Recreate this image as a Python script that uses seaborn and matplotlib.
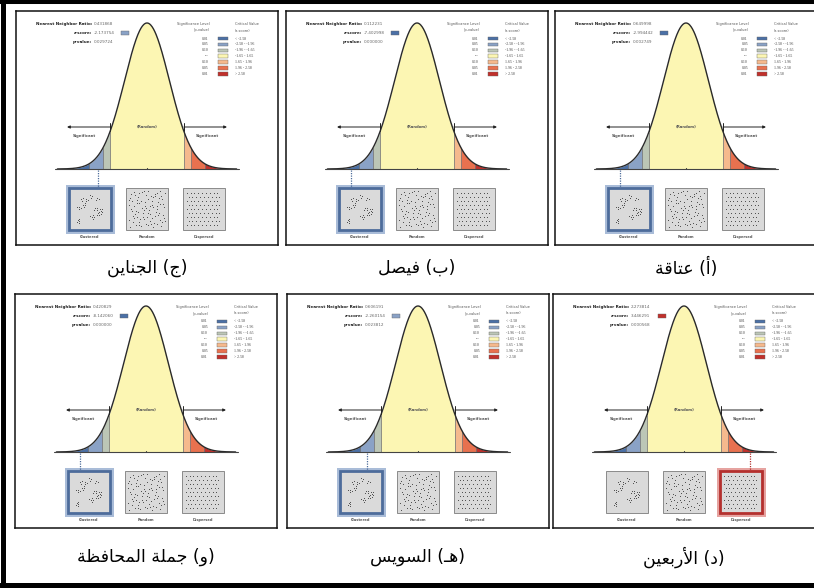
import numpy as np
import matplotlib
matplotlib.use("Agg")
import matplotlib.pyplot as plt
from matplotlib.patches import Rectangle
import seaborn as sns

letters = ["ج", "ب", "أ", "و", "هـ", "د"]
names = ["الجناين", "فيصل", "عتاقة", "جملة المحافظة", "السويس", "الأربعين"]
nn_ratio = [0.431868, 0.112231, 0.649998, 0.420829, 0.606191, 2.273814]
z_scores = [-2.173754, -7.402998, -2.994442, -8.142060, -2.260154, 3.446291]
p_values = [0.029724, 0.000000, 0.002749, 0.000000, 0.023812, 0.000568]

# legend of the report
sig_levels = ["0.01", "0.05", "0.10", "---", "0.10", "0.05", "0.01"]
crit_ranges = ["< -2.58", "-2.58 - -1.96", "-1.96 - -1.65", "-1.65 - 1.65",
               "1.65 - 1.96", "1.96 - 2.58", "> 2.58"]
z_breaks = [-2.58, -1.96, -1.65, 1.65, 1.96, 2.58]
band_colors = ["#4b70a6", "#8aa2c6", "#bcc6b6", "#fcf6b3",
               "#f5b98d", "#e8714f", "#c1302b"]
pattern_names = ["Clustered", "Random", "Dispersed"]

sns.set_theme(style="white")
plt.rcParams["font.family"] = ["DejaVu Sans"]

W_PX, H_PX = 814, 588
fig = plt.figure(figsize=(W_PX / 100, H_PX / 100), dpi=100)

# ---- arabic shaping (matplotlib has no RTL / joining support) ----
FORMS = {
    "ا": ("\uFE8D", "\uFE8E", None, None), "أ": ("\uFE83", "\uFE84", None, None),
    "ب": ("\uFE8F", "\uFE90", "\uFE91", "\uFE92"), "ة": ("\uFE93", "\uFE94", None, None),
    "ت": ("\uFE95", "\uFE96", "\uFE97", "\uFE98"), "ج": ("\uFE9D", "\uFE9E", "\uFE9F", "\uFEA0"),
    "ح": ("\uFEA1", "\uFEA2", "\uFEA3", "\uFEA4"), "د": ("\uFEA9", "\uFEAA", None, None),
    "ر": ("\uFEAD", "\uFEAE", None, None), "س": ("\uFEB1", "\uFEB2", "\uFEB3", "\uFEB4"),
    "ص": ("\uFEB9", "\uFEBA", "\uFEBB", "\uFEBC"), "ظ": ("\uFEC5", "\uFEC6", "\uFEC7", "\uFEC8"),
    "ع": ("\uFEC9", "\uFECA", "\uFECB", "\uFECC"), "ف": ("\uFED1", "\uFED2", "\uFED3", "\uFED4"),
    "ق": ("\uFED5", "\uFED6", "\uFED7", "\uFED8"), "ل": ("\uFEDD", "\uFEDE", "\uFEDF", "\uFEE0"),
    "م": ("\uFEE1", "\uFEE2", "\uFEE3", "\uFEE4"), "ن": ("\uFEE5", "\uFEE6", "\uFEE7", "\uFEE8"),
    "ه": ("\uFEE9", "\uFEEA", "\uFEEB", "\uFEEC"), "و": ("\uFEED", "\uFEEE", None, None),
    "ي": ("\uFEF1", "\uFEF2", "\uFEF3", "\uFEF4"),
    "لأ": ("\uFEF7", "\uFEF8", None, None), "لا": ("\uFEFB", "\uFEFC", None, None),
}
TATWEEL = "ـ"


def shape(text):
    chars, i = [], 0
    while i < len(text):
        if text[i] == "ل" and i + 1 < len(text) and text[i + 1] in "اأ":
            chars.append("ل" + text[i + 1])
            i += 2
        else:
            chars.append(text[i])
            i += 1

    def dual(c):
        return c == TATWEEL or (c in FORMS and FORMS[c][2] is not None)

    def joins(c):
        return c == TATWEEL or c in FORMS

    out = []
    for k, c in enumerate(chars):
        if c not in FORMS:
            out.append(c)
            continue
        prev = chars[k - 1] if k > 0 else None
        nxt = chars[k + 1] if k + 1 < len(chars) else None
        jp = prev is not None and dual(prev)
        jn = FORMS[c][2] is not None and nxt is not None and joins(nxt)
        iso, fin, ini, med = FORMS[c]
        out.append(med if (jp and jn) else fin if jp else ini if jn else iso)
    return "".join(out)[::-1].translate(str.maketrans("()", ")("))


# ---- point pattern illustrations (deterministic) ----
def halton(n, base, skip=1):
    seq = []
    for i in range(skip, skip + n):
        f, r, k = 1.0, 0.0, i
        while k > 0:
            f /= base
            r += f * (k % base)
            k //= base
        seq.append(r)
    return np.array(seq)


def pattern_points(kind):
    if kind == "Clustered":
        cx = 0.12 + 0.76 * halton(11, 2, 3)
        cy = 0.12 + 0.76 * halton(11, 3, 3)
        tmpl = np.array([[0, 0], [0.05, 0.02], [-0.02, 0.05], [0.03, -0.04], [0.06, 0.06]])
        pts = []
        for k, (a, b) in enumerate(zip(cx, cy)):
            ang = k * 1.3
            rot = np.array([[np.cos(ang), -np.sin(ang)], [np.sin(ang), np.cos(ang)]])
            pts.append(tmpl[: 3 + k % 3] @ rot.T + [a, b])
        return np.clip(np.vstack(pts), 0.02, 0.98)
    if kind == "Random":
        return np.column_stack([halton(85, 2, 17), halton(85, 3, 17)])
    gx, gy = np.meshgrid(np.arange(9), np.arange(9))
    gx = gx + 0.5 * (gy % 2)
    return np.column_stack([(gx.ravel() + 0.3) / 9.6, (gy.ravel() + 0.5) / 9])


def zcolor(z):
    return band_colors[int(np.searchsorted(z_breaks, z))]


# ---- one report panel ----
PW, PH = 262, 234
CX, S, BASE, PEAK = 131, 22.4, 158, 146
curve = lambda z: BASE - PEAK * np.exp(-np.asarray(z) ** 2 / 2)
FS = 3.0


def draw_panel(ax, nnr, z, p):
    edges = [-4.0] + z_breaks + [4.0]
    for lo, hi, col in zip(edges[:-1], edges[1:], band_colors):
        zz = np.linspace(lo, hi, 80)
        ax.fill_between(CX + zz * S, curve(zz), BASE, color=col, lw=0)
    for e in z_breaks:
        ax.plot([CX + e * S] * 2, [curve(e), BASE], color="#6a6a6a", lw=0.5)
    zz = np.linspace(-4, 4, 400)
    sns.lineplot(x=CX + zz * S, y=curve(zz), ax=ax, color="#2a2a2a", lw=1.0, sort=False)
    ax.plot([CX - 4.1 * S, CX + 4.1 * S], [BASE, BASE], color="#444444", lw=0.8)
    ax.plot([CX, CX], [BASE - 1.5, BASE], color="#444444", lw=0.8)

    # significance arrows
    for sgn, tx in ((-1, 68), (1, 191)):
        x0 = CX + sgn * 1.65 * S
        ax.annotate("", xy=(x0 + sgn * 43, 116), xytext=(x0, 116),
                    arrowprops=dict(arrowstyle="-|>", color="#222222", lw=0.7,
                                    mutation_scale=4, shrinkA=0, shrinkB=0))
        ax.plot([x0, x0], [112, 120], color="#222222", lw=0.7)
        ax.text(tx, 125, "Significant", fontsize=FS - 0.3, color="#555555",
                ha="center", va="center", fontweight="bold")
    ax.text(CX, 116, "(Random)", fontsize=FS - 0.3, color="#555555",
            ha="center", va="center", fontweight="bold")

    # statistics
    ax.text(76, 13, "Nearest Neighbor Ratio:", fontsize=FS, fontweight="bold",
            ha="right", va="center", color="#222222")
    ax.text(78, 13, f"{nnr:.6f}", fontsize=FS, ha="left", va="center", color="#666666")
    ax.text(76, 22, "z-score:", fontsize=FS, fontweight="bold", ha="right", va="center", color="#222222")
    ax.text(78, 22, f"{z:.6f}", fontsize=FS, ha="left", va="center", color="#666666")
    ax.add_patch(Rectangle((105, 20), 8, 4, facecolor=zcolor(z), edgecolor="#666666", lw=0.3))
    ax.text(76, 31, "p-value:", fontsize=FS, fontweight="bold", ha="right", va="center", color="#222222")
    ax.text(78, 31, f"{p:.6f}", fontsize=FS, ha="left", va="center", color="#666666")

    # legend
    ax.text(194, 13, "Significance Level", fontsize=FS - 0.4, ha="right", va="center", color="#555555")
    ax.text(194, 19.5, "(p-value)", fontsize=FS - 0.4, ha="right", va="center", color="#555555")
    ax.text(219, 13, "Critical Value", fontsize=FS - 0.4, ha="left", va="center", color="#555555")
    ax.text(219, 19.5, "(z-score)", fontsize=FS - 0.4, ha="left", va="center", color="#555555")
    for k, (lv, rg, col) in enumerate(zip(sig_levels, crit_ranges, band_colors)):
        y = 27.5 + 5.9 * k
        ax.text(193, y, lv, fontsize=FS - 0.2, ha="right", va="center",
                color="#444444", family="Liberation Serif")
        ax.add_patch(Rectangle((202, y - 1.8), 10, 3.6, facecolor=col, edgecolor="#666666", lw=0.3))
        ax.text(219, y, rg, fontsize=FS - 0.2, ha="left", va="center",
                color="#444444", family="Liberation Serif")

    # point pattern boxes
    hi = 0 if z < -1.65 else 2 if z > 1.65 else 1
    hcol = "#4d6c9b" if hi == 0 else "#b4302e"
    halo = "#a9bcd8" if hi == 0 else "#e6a3a0"
    for k, kind in enumerate(pattern_names):
        bx, by, bs = CX - 57 + 57 * k - 21, 177, 42
        if k == hi and z != 0 and abs(z) > 1.65:
            ax.add_patch(Rectangle((bx - 1, by - 1), bs + 2, bs + 2, facecolor="none",
                                   edgecolor=halo, lw=3.6))
            ax.add_patch(Rectangle((bx, by), bs, bs, facecolor="#dadada",
                                   edgecolor=hcol, lw=2.0))
        else:
            ax.add_patch(Rectangle((bx, by), bs, bs, facecolor="#dadada",
                                   edgecolor="#8a8a8a", lw=0.7))
        pts = pattern_points(kind)
        ax.scatter(bx + 2.5 + pts[:, 0] * (bs - 5), by + 2.5 + pts[:, 1] * (bs - 5),
                   s=0.5, color="#4a4a4a", lw=0)
        ax.text(bx + bs / 2, 226, kind, fontsize=FS - 0.4, ha="center", va="center",
                color="#555555", fontweight="bold")
    if abs(z) > 1.65:
        xz = CX + np.clip(z, -2.95, 2.95) * S
        ax.plot([xz, xz], [BASE + 1, 176], color=hcol, lw=0.9, ls=(0, (1, 1)))

    ax.set_xlim(0, PW)
    ax.set_ylim(PH, 0)
    ax.set_xticks([])
    ax.set_yticks([])
    ax.set_xlabel("")
    ax.set_ylabel("")
    for sp in ax.spines.values():
        sp.set_visible(True)
        sp.set_color("#111111")
        sp.set_linewidth(1.1)


col_left = [[16, 286, 555], [15, 287, 553]]
row_top = [11, 294]
label_y = [268, 557]

for i in range(6):
    r, c = divmod(i, 3)
    x0, y0 = col_left[r][c], row_top[r]
    ax = fig.add_axes([x0 / W_PX, 1 - (y0 + PH) / H_PX, PW / W_PX, PH / H_PX])
    ax.set_facecolor("white")
    draw_panel(ax, nn_ratio[i], z_scores[i], p_values[i])
    fig.text((x0 + PW / 2) / W_PX, 1 - label_y[r] / H_PX,
             shape("(" + letters[i] + ") " + names[i]),
             fontsize=12.5, ha="center", va="center", color="black")

# thick outer frame
fig.add_artist(plt.Line2D([2.5 / W_PX] * 2, [0, 1], transform=fig.transFigure, color="black", lw=3.6))
fig.add_artist(plt.Line2D([0, 1], [1 - 2 / H_PX] * 2, transform=fig.transFigure, color="black", lw=2.9))
fig.add_artist(plt.Line2D([0, 1], [3 / H_PX] * 2, transform=fig.transFigure, color="black", lw=3.6))

fig.savefig("out.png", dpi=100, facecolor="white")
